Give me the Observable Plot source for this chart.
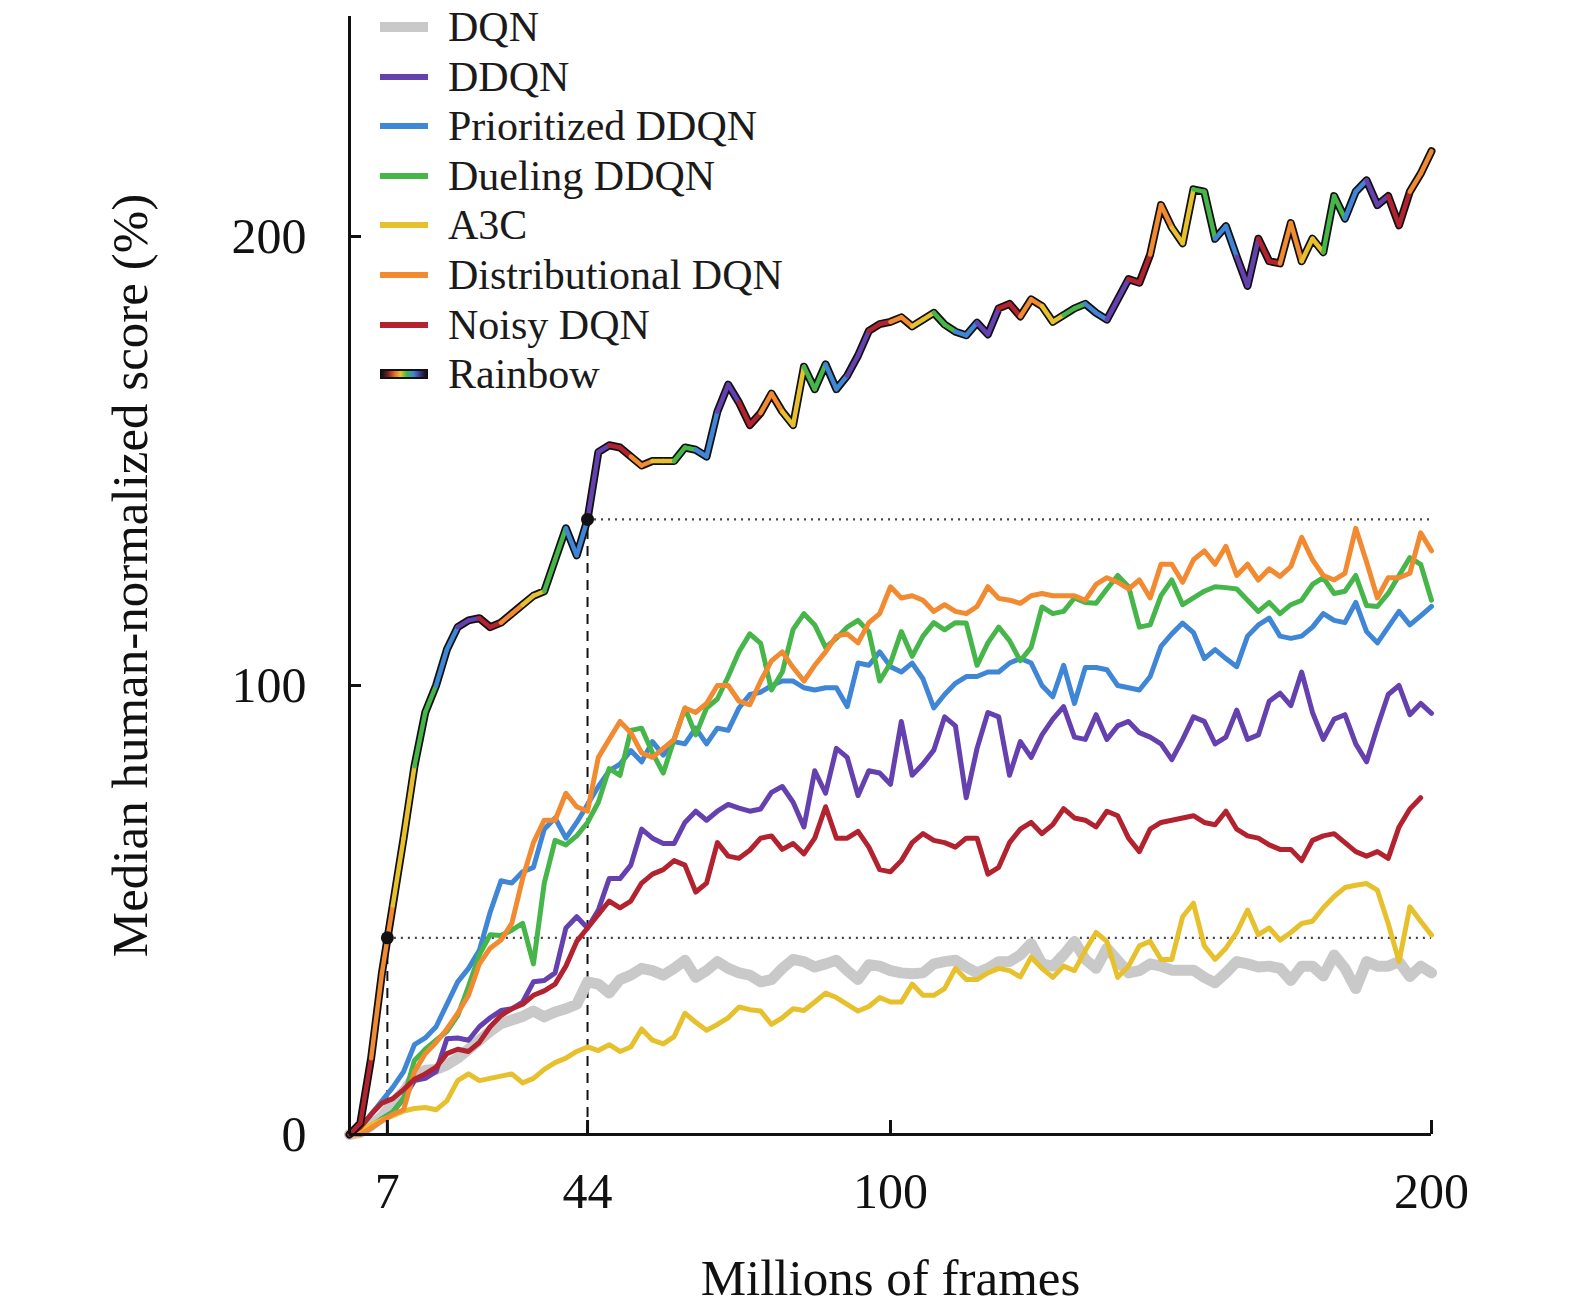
<!DOCTYPE html>
<html><head><meta charset="utf-8">
<script src="https://cdn.jsdelivr.net/npm/d3@7"></script>
<script src="https://cdn.jsdelivr.net/npm/@observablehq/plot@0.6"></script>
<style>
body{margin:0;background:#fff;}
#wrap{position:relative;width:1575px;height:1316px;font-family:"Liberation Serif","Times New Roman",serif;}
#legend{position:absolute;left:380px;top:0;}
.row{position:absolute;left:0;height:50px;display:flex;align-items:center;white-space:nowrap;}
.sw{width:48px;margin-right:20px;}
.lab{font-size:42px;color:#1a1a1a;line-height:50px;}
</style></head><body><div id="wrap"><div id="chart"></div><div id="legend"></div></div>
<script>
// x grid: millions of frames, every 2M
const frames = d3.range(0, 201, 2);

const dqn = [0,0.5,2,4,7,9.5,13,14.3,14.5,15.5,17,19,21,23,24.7,25.5,26.3,27.5,26.2,27.3,28,29,34,33.5,31.5,34.5,35.5,37,36.5,35.5,37,38.8,35,36.5,38.5,37,36,35.5,34,34.5,37,39,38.5,37.3,38,38.8,36.5,34.5,37.8,37.5,36.5,36,35.8,36,38,38.5,38.8,37.3,36,37,38.5,38.5,40,42.5,38,37.5,40,43,39,37,41.5,38.8,36,36.5,38,37.5,36.6,36.6,36.6,35,33.8,36,38.5,38,37.3,37.5,37,34.3,37.5,37.5,35.3,40,37,32.5,38.5,37.5,37.5,38.5,35.2,37.5,36];

const ddqn = [0,0,1.5,3.5,5,8,12,12.5,14,21.3,21.5,21,24,26,27.6,28,29.5,34,34.3,36,46,48.5,46,50,57,57,60,68,66,64.8,64.8,69.5,72,70,72,73.5,72.7,72,72.5,76.2,77.5,74,68.5,81,76,86,84,75.5,81,80.5,78,92,80,82.5,85.6,93,91,75,86,94,93,80,87.5,84,89,92.5,95.3,88.5,88,93.5,88,91,92,89.5,88.5,87,83.5,88,93,92,87,88.5,94.5,88,89,96.5,98.3,95.5,103,94,88,92.5,93.5,87,83,90.8,98,100,93.5,96,93.8];

const prioritized = [0,1.6,4.5,7.5,10.5,14,20,21.5,24,29,34,37,41,49.5,56.5,56,58.5,59.5,68,70.5,66,69.5,73.5,77.5,81,82.5,85.5,83,87.5,84.5,87.5,87,90.5,87,90.5,90,95,98,98.5,100,101,101,99.5,99,99.5,99.5,95.3,105,104.5,107.5,104.2,103,105,101.5,95,98,100.5,102,102,103,103,105,106,105,100,97.5,104.5,96,104,104,103.5,100,99.5,99,102,108.7,111.5,113.9,111.8,106,108,106,104.2,111,113.5,115,111,110.5,111,113,116,114.5,114,118.5,112,109.5,113,116.5,113.5,115.5,117.6];

const dueling = [0,0.5,2,3.5,5,8,16.5,19,21,23,26.5,33,40,44.5,44.3,45.5,47,38,56,65.5,64.5,66.5,69.5,74,81.5,80,90,90.5,85,80.5,88,95,89,95,97,102,107.5,111.5,109.4,99,103,112.5,116,113.5,108.5,110.5,113,114.5,112,101,105,112,106.5,111,114,112.4,114,113.9,104.5,109.5,113,110,105.5,108.5,117.5,116,116.5,119.5,118.5,118.3,121.5,124.5,122,113,113.5,120,123.5,118,119.5,121,122,121.8,121.5,119,116.5,118.5,116,118,119,122.5,124,120.5,121,124.5,117.8,117.6,120.5,124.5,128.5,127,119];

const a3c = [0,1,2.2,3.2,4.2,5.2,5.8,6,5.5,7.5,12,13.5,12,12.5,13,13.5,11.5,12.5,14.5,16,17,18.5,19.5,18.7,20,18.5,19.5,23.5,21,20.2,21.8,27,25,23.2,24.5,26,28.4,27.8,27.5,24.5,26,28,27.6,29.5,31.5,30.5,29,27.5,28.5,30.5,29.5,29.5,33.5,31,31,32.5,37,34.5,34.5,36,37,36.5,35.1,39.5,37,35,37.5,36.5,41,45,43,35,37.5,42,43,39,39,48.5,51.5,42,39,41.5,45,50,44.5,46,43.3,45,47,47.5,50.5,53,55,55.5,55.9,54.4,47,38.5,50.7,47.5,44.4];

const distributional = [0,0,1.5,3,4.5,5.5,14,18,20.5,23.5,27,31,38,41.5,43.3,47,57,65,70,70,76,73,72,84,88,92,89.5,85,84,86,88,95,94,96,100,100,96.5,95.7,101,105.5,107.5,104,101,104.5,107.5,111,111.5,109.5,114,116,122,119.5,120,119,116.5,118,116.5,116,117.6,122,119.4,119,118.3,120,120.5,120,120,120,119,122.5,124,123,121.5,123.5,119.5,127,127,123,128,130,127,131,124.5,127,123.5,126,124.3,126.5,133,128,124.5,123.5,125,135,127.5,119.5,124,124,125,134,130];

// Noisy DQN ends at 198M
const noisy = [0,1.6,4.5,7,8,10,12.3,13.5,15,18,19,18.5,20.5,24,26.5,28,29,31,32,33.5,37.5,43,46,49,52,50.5,52,56,58,59,61,60,54,56,65,62,61.5,63.3,66,66.5,63.5,64.8,62.5,66,73,66,66,67.5,64,59,58.5,61,65,67,65.5,65,64,66,66,58,59.5,65,68,69.5,67,69,72.6,70.5,70,68.5,72,71,66,63,68,69.5,70,70.5,71,69.5,69,72,68,66.5,66,64.5,63.5,63.5,61,65.5,66.5,67,65,63,62,63,61.5,68.5,72.5,75];

const rainbow = [0,2.5,17,36,51,66,82,94,100,108,113,114.5,115,113,114,116,118,120,121,128,135,129,137,152,153.5,153,151,149,150,150,150,153,152.5,151,161,167,163,158,160.7,165,161,158,171,166,171.5,166,169,173.5,179,180.5,181,182,180,181.5,183,180.4,178.8,178,180.8,178.2,184,185,182.2,186,184.5,181,182.5,184,185,183,181.5,186,190.5,189.7,196,207,202,198.5,210.5,210,199.5,202.3,195.5,189,199.5,194.5,194,203,194.5,199.5,196.5,209,204,210,212.5,207,209,202.5,210,214,219];

const seriesNames = ["DQN","DDQN","Prioritized DDQN","Dueling DDQN","A3C","Distributional DQN","Noisy DQN","Rainbow"];
const seriesColors = ["#c9c9c9","#6541b0","#3f86d6","#46b64a","#e7c12d","#f28a31","#b2232f","#111111"];
const seriesValues = [dqn, ddqn, prioritized, dueling, a3c, distributional, noisy, rainbow];
const rainbowCycle = ["#b2232f","#f28a31","#e7c12d","#46b64a","#3f86d6","#6541b0"];

// milestones: Rainbow matches DQN's final score at 7M, and the best baseline's final score at 44M
const milestoneFrames = [7, 44];
const milestoneScores = [43.8, 137];
const xTicks = [7, 44, 100, 200];
const yTicks = [0, 100, 200];
const xMax = 200;

const toRows = (vals) => vals.map((v, i) => ({x: frames[i], y: v})).filter(d => d.y != null);
const milestones = milestoneFrames.map((f, i) => ({x: f, y: milestoneScores[i]}));

const rainbowRows = toRows(rainbow);
const rainbowSegs = [];
for (let i = 0; i < rainbowRows.length - 1; i++) {
  const a = rainbowRows[i], b = rainbowRows[i + 1];
  rainbowSegs.push({x1: a.x, y1: a.y, x2: b.x, y2: b.y, c: rainbowCycle[Math.floor(a.x / 4) % 6]});
}

const lineMarks = [];
for (let s = 0; s < 7; s++) {
  lineMarks.push(Plot.line(toRows(seriesValues[s]), {
    x: "x", y: "y", stroke: seriesColors[s],
    strokeWidth: s === 0 ? 11 : 5, strokeLinejoin: "round", strokeLinecap: "round"
  }));
}

const chart = Plot.plot({
  width: 1575, height: 1316,
  marginLeft: 349, marginRight: 144, marginTop: 16, marginBottom: 182,
  x: {domain: [0, xMax]},
  y: {domain: [0, 249]},
  color: {type: "identity"},
  style: {fontFamily: "'Liberation Serif','Times New Roman',serif", background: "white", color: "#111", overflow: "visible"},
  marks: [
    Plot.ruleY(milestones, {y: "y", x1: "x", x2: xMax, stroke: "#444", strokeWidth: 2.2, strokeDasharray: "2,5"}),
    Plot.ruleX(milestones, {x: "x", y1: 0, y2: "y", stroke: "#111", strokeWidth: 2, strokeDasharray: "10,7"}),
    ...lineMarks,
    Plot.line(rainbowRows, {x: "x", y: "y", stroke: "#111", strokeWidth: 8, strokeLinejoin: "round", strokeLinecap: "round"}),
    Plot.link(rainbowSegs, {x1: "x1", y1: "y1", x2: "x2", y2: "y2", stroke: "c", strokeWidth: 4.5, strokeLinecap: "round"}),
    Plot.dot(milestones, {x: "x", y: "y", r: 6.5, fill: "#111"}),
    Plot.ruleX([0], {stroke: "#111", strokeWidth: 3}),
    Plot.ruleY([0], {stroke: "#111", strokeWidth: 3}),
    Plot.axisY({ticks: yTicks, tickSize: -12, tickFormat: () => "", strokeWidth: 3, label: null}),
    Plot.axisY({ticks: yTicks, tickSize: 0, tickPadding: 43, fontSize: 50, label: null}),
    Plot.axisX({ticks: xTicks, tickSize: -14, tickFormat: () => "", strokeWidth: 3, label: null}),
    Plot.axisX({ticks: xTicks, tickSize: 0, tickPadding: 38, fontSize: 50, label: null}),
    Plot.text(["Millions of frames"], {frameAnchor: "bottom", dy: 160, fontSize: 51, fill: "#111"}),
    Plot.text(["Median human-normalized score (%)"], {frameAnchor: "left", textAnchor: "middle", rotate: -90, dx: -219, fontSize: 51, fill: "#111"})
  ]
});
document.getElementById("chart").appendChild(chart);

// legend
const legend = document.getElementById("legend");
seriesNames.forEach((name, i) => {
  const row = document.createElement("div");
  row.className = "row";
  row.style.top = (27 + i * 49.6 - 25) + "px";
  const sw = document.createElement("div");
  sw.className = "sw";
  if (i === 7) {
    sw.style.height = "10px";
    sw.style.background = "linear-gradient(90deg,#111 0%,#7a1f25 14%,#e06a2a 28%,#e7c12d 42%,#46b64a 56%,#3f86d6 72%,#3a2f7a 88%,#111 100%)";
    sw.style.boxSizing = "border-box";
    sw.style.border = "2px solid #111";
  } else {
    sw.style.height = (i === 0 ? 10 : 6) + "px";
    sw.style.background = seriesColors[i];
  }
  const lab = document.createElement("span");
  lab.className = "lab";
  lab.textContent = name;
  row.appendChild(sw); row.appendChild(lab);
  legend.appendChild(row);
});
</script></body></html>
